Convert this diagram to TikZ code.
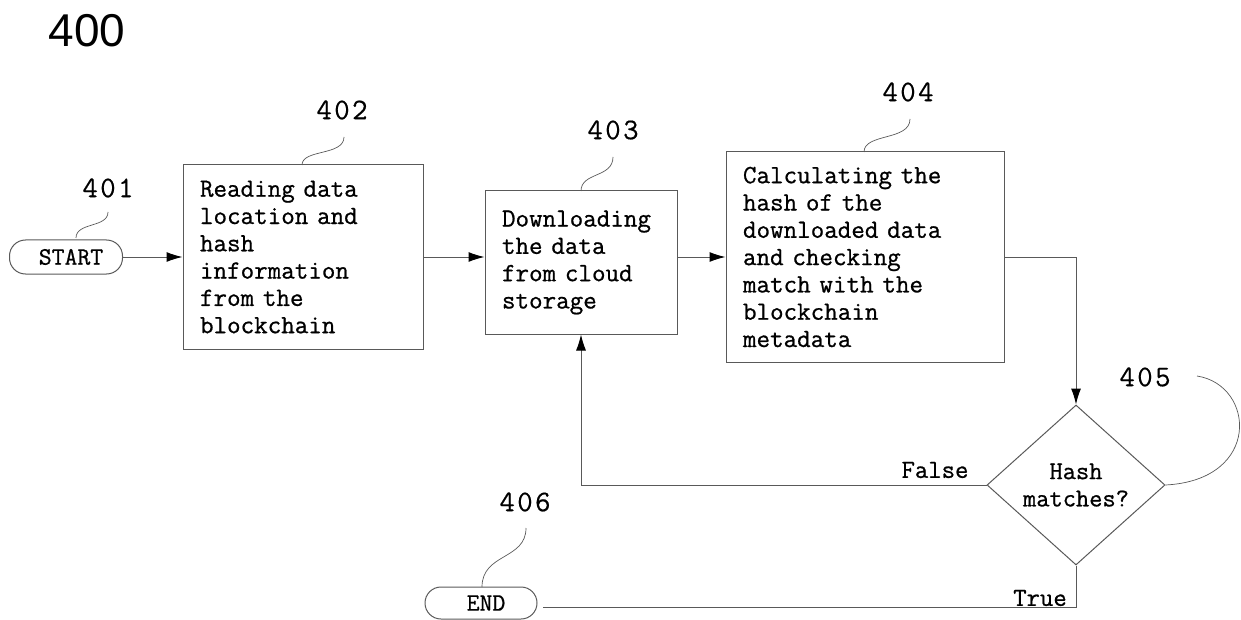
\documentclass[tikz,border=0pt]{standalone}
\usepackage{fontspec}
\setsansfont{Liberation Sans}
\newfontfamily\cour[FakeBold=0.8]{Latin Modern Mono}
\newfontfamily\courl[FakeBold=0.4,LetterSpace=8]{Latin Modern Mono}
\usetikzlibrary{arrows.meta,shapes.geometric}
\begin{document}
\begin{tikzpicture}[x=1pt,y=-1pt,
  line/.style={draw=black!65, line width=1pt},
  arr/.style={line, -{Latex[length=16pt,width=10pt,fill=black,color=black]}},
  box/.style={line, rectangle, align=left, inner ysep=4pt, inner xsep=17pt,
    font=\cour\fontsize{26.3}{27.3}\selectfont},
  term/.style={line, rectangle, rounded corners=16pt, inner sep=0pt,
    font=\cour\fontsize{25}{26}\selectfont},
  dec/.style={line, diamond, inner sep=0pt, align=center,
    font=\cour\fontsize{25.7}{27.3}\selectfont},
  lbl/.style={inner sep=0pt, font=\courl\fontsize{30}{34}\selectfont},
  tag/.style={inner sep=0pt, font=\cour\fontsize{26}{28}\selectfont},
  lead/.style={draw=black!65, line width=0.7pt}]
\useasboundingbox (0,0) rectangle (1241,620);

\node[inner sep=0pt, font=\sffamily\fontsize{46}{50}\selectfont] (fig) at (87,31) {400};

\node[term, minimum width=113pt, minimum height=34pt] (start) at (66,257) {\hspace{10pt}START};
\node[box, text width=206pt, minimum height=184pt] (b402) at (303,257)
  {Reading data\\location and\\hash\\information\\from the\\blockchain};
\node[box, text width=158pt, minimum height=143pt] (b403) at (581,262.5)
  {Downloading\\the data\\from cloud\\storage};
\node[box, text width=244pt, minimum height=210pt] (b404) at (865,257)
  {Calculating the\\hash of the\\downloaded data\\and checking\\match with the\\blockchain\\metadata};
\node[dec, minimum width=178pt, minimum height=160pt] (dia) at (1076,485) {Hash\\matches?};
\node[term, minimum width=112pt, minimum height=32pt] (end) at (481,603) {\hspace{10pt}END};

\node[lbl] (l401) at (108,188) {401};
\node[lbl] (l402) at (342,110) {402};
\node[lbl] (l403) at (613,130) {403};
\node[lbl] (l404) at (908,92) {404};
\node[lbl] (l405) at (1145,377) {405};
\node[lbl] (l406) at (525,502) {406};

\node[tag] (tfalse) at (935,470) {False};
\node[tag] (ttrue) at (1040,598) {True};

% connectors
\draw[arr] (start.east) -- (b402.west);
\draw[arr] (b402.east) -- (b402.east -| b403.west);
\draw[arr] (b404.west -| b403.east) -- (b404.west);
\draw[arr] (b404.east) -| (dia.north);
\draw[arr] (dia.west) -| (b403.south);
\coordinate (tend) at (543,607);
\draw[line] (dia.south) |- (tend);

% leaders
\draw[lead] (76,238) .. controls (76,222) and (108,228) .. (108,212);
\draw[lead] (302,165) .. controls (302,149) and (344,156) .. (344,137);
\draw[lead] (581,191) .. controls (581,172) and (613,178) .. (613,157);
\draw[lead] (864,152) .. controls (864,133) and (910,141) .. (910,119);
\draw[lead] (482,587) .. controls (482,553) and (526,560) .. (526,528);
\draw[lead] (1197,376) .. controls (1255,385) and (1262,480) .. (dia.east);
\end{tikzpicture}
\end{document}
